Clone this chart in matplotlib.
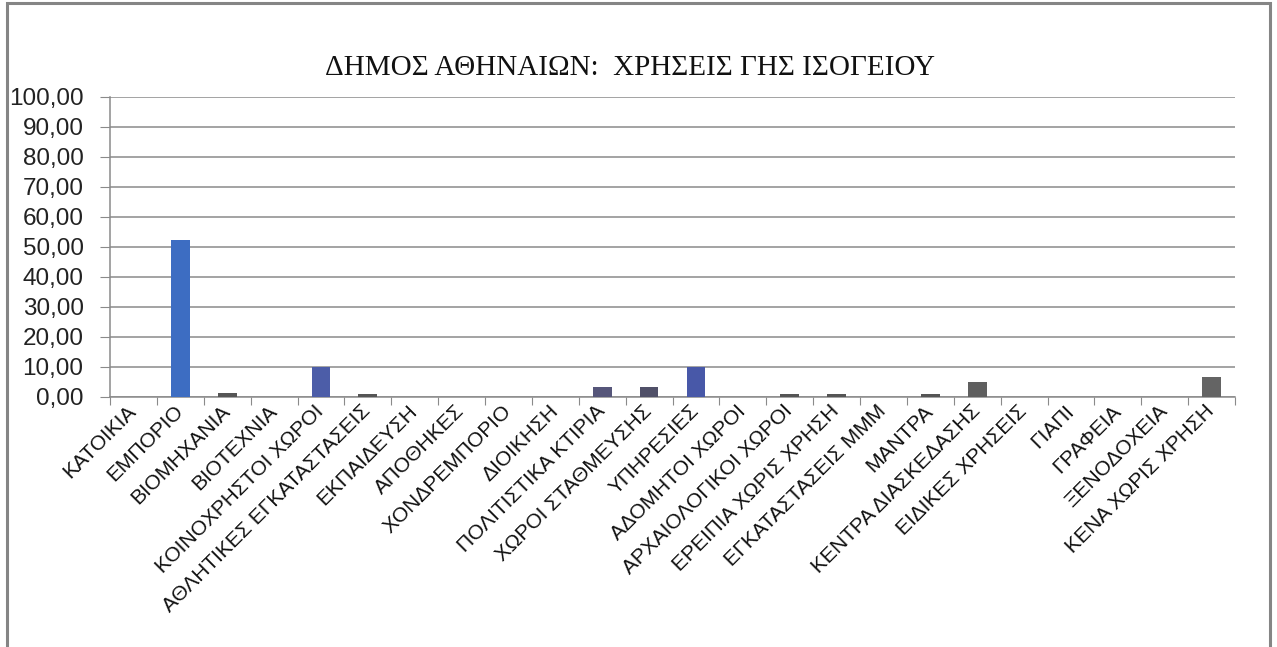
import matplotlib
matplotlib.use("Agg")
import matplotlib.pyplot as plt
from matplotlib.patches import Rectangle
from matplotlib.transforms import ScaledTranslation
import numpy as np

categories = [
    "ΚΑΤΟΙΚΙΑ", "ΕΜΠΟΡΙΟ", "ΒΙΟΜΗΧΑΝΙΑ", "ΒΙΟΤΕΧΝΙΑ", "ΚΟΙΝΟΧΡΗΣΤΟΙ ΧΩΡΟΙ",
    "ΑΘΛΗΤΙΚΕΣ ΕΓΚΑΤΑΣΤΑΣΕΙΣ", "ΕΚΠΑΙΔΕΥΣΗ", "ΑΠΟΘΗΚΕΣ", "ΧΟΝΔΡΕΜΠΟΡΙΟ", "ΔΙΟΙΚΗΣΗ",
    "ΠΟΛΙΤΙΣΤΙΚΑ ΚΤΙΡΙΑ", "ΧΩΡΟΙ ΣΤΑΘΜΕΥΣΗΣ", "ΥΠΗΡΕΣΙΕΣ", "ΑΔΟΜΗΤΟΙ ΧΩΡΟΙ",
    "ΑΡΧΑΙΟΛΟΓΙΚΟΙ ΧΩΡΟΙ", "ΕΡΕΙΠΙΑ ΧΩΡΙΣ ΧΡΗΣΗ", "ΕΓΚΑΤΑΣΤΑΣΕΙΣ ΜΜΜ", "ΜΑΝΤΡΑ",
    "ΚΕΝΤΡΑ ΔΙΑΣΚΕΔΑΣΗΣ", "ΕΙΔΙΚΕΣ ΧΡΗΣΕΙΣ", "ΓΙΑΠΙ", "ΓΡΑΦΕΙΑ", "ΞΕΝΟΔΟΧΕΙΑ",
    "ΚΕΝΑ ΧΩΡΙΣ ΧΡΗΣΗ",
]
values = [0.0, 52.3, 1.3, 0.0, 10.0, 1.0, 0.0, 0.0, 0.0, 0.0,
          3.2, 3.2, 10.0, 0.0, 1.0, 1.0, 0.0, 1.0, 4.9, 0.0, 0.0, 0.0, 0.0, 6.6]
bar_colors = ["#3b6cc0", "#3d6dc2", "#555555", "#555555", "#4c5da8", "#555555",
              "#555555", "#555555", "#555555", "#555555", "#56567a", "#505068",
              "#4858a8", "#555555", "#555555", "#555555", "#555555", "#555555",
              "#5f5f5f", "#5f5f5f", "#5f5f5f", "#5f5f5f", "#5f5f5f", "#646464"]
yticks = [0, 10, 20, 30, 40, 50, 60, 70, 80, 90, 100]
title = "ΔΗΜΟΣ ΑΘΗΝΑΙΩΝ:  ΧΡΗΣΕΙΣ ΓΗΣ ΙΣΟΓΕΙΟΥ"

W, H = 1277, 647
fig = plt.figure(figsize=(W / 100, H / 100), dpi=100)
fig.patch.set_facecolor("white")

# outer chart frame
fig.add_artist(Rectangle((7 / W, -0.01), (1270 - 7) / W, (H - 3) / H + 0.01,
                         transform=fig.transFigure, fill=False,
                         edgecolor="#858585", linewidth=2.2))

ax = fig.add_axes([110 / W, (H - 397) / H, (1235 - 110) / W, 300 / H])
x = np.arange(len(categories))
ax.bar(x, values, width=0.4, color=bar_colors, zorder=3)

ax.set_xlim(-0.5, len(categories) - 0.5)
ax.set_ylim(0, 100)
ax.set_yticks(yticks)
ax.set_yticklabels([f"{v:.2f}".replace(".", ",") for v in yticks],
                   fontsize=17.5, family="Liberation Sans", color="#222222")
ax.yaxis.grid(True, color="#8a8a8a", linewidth=1.1, zorder=0)
ax.set_axisbelow(True)

# x ticks at category boundaries, labels at centers
ax.set_xticks(np.arange(-0.5, len(categories), 1.0))
ax.set_xticklabels([])
ax.set_xticks(x, minor=True)
labels = ax.set_xticklabels(categories, minor=True, rotation=45, ha="right",
                            va="center", rotation_mode="anchor", fontsize=15,
                            family="Liberation Sans", color="#111111")
shift = ScaledTranslation(7 / 100, 0, fig.dpi_scale_trans)
for lab in labels:
    lab.set_transform(lab.get_transform() + shift)
ax.tick_params(axis="x", which="minor", length=0, pad=8)
ax.tick_params(axis="x", which="major", length=6, color="#8a8a8a", direction="out")
ax.tick_params(axis="y", length=7, color="#8a8a8a", direction="out", pad=12)

for s in ["top", "right"]:
    ax.spines[s].set_visible(False)
for s in ["left", "bottom"]:
    ax.spines[s].set_color("#8a8a8a")
    ax.spines[s].set_linewidth(1.1)

fig.text(630 / W, 1 - 68 / H, title, ha="center", va="center",
         fontsize=21, family="Liberation Serif", color="#111111")

fig.savefig("out.png", dpi=100)
